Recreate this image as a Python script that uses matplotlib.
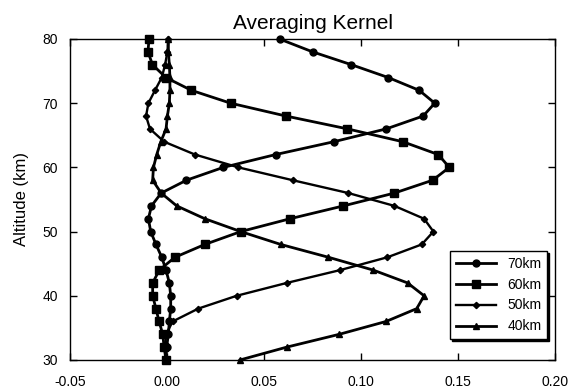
import numpy as np
from matplotlib import pyplot as plt

plt.rcParams['font.family'] = ['Liberation Sans', 'DejaVu Sans']

alt = [80, 78, 76, 74, 72, 70, 68, 66, 64, 62, 60, 58, 56,
       54, 52, 50, 48, 46, 44, 42, 40, 38, 36, 34, 32, 30]

k70 = [0.058, 0.075, 0.095, 0.114, 0.130, 0.138, 0.132, 0.113, 0.086, 0.056,
       0.029, 0.010, -0.003, -0.008, -0.0096, -0.0084, -0.0057, -0.0027,
       -0.0005, 0.0012, 0.0019, 0.0019, 0.0012, 0.0007, -0.0002, -0.0005]
k60 = [-0.0093, -0.0098, -0.0075, -0.0006, 0.0126, 0.0328, 0.0613, 0.093,
       0.1215, 0.1398, 0.1455, 0.1369, 0.1172, 0.0909, 0.0634, 0.038, 0.0195,
       0.0041, -0.004, -0.0074, -0.0074, -0.0057, -0.0041, -0.0022, -0.0015,
       -0.0005]
k50 = [0.0007, 0.0002, -0.001, -0.0027, -0.0062, -0.0096, -0.0108, -0.0088,
       -0.0015, 0.0144, 0.0368, 0.0648, 0.0935, 0.1172, 0.1325, 0.1373,
       0.1313, 0.1136, 0.0892, 0.0617, 0.0359, 0.0161, 0.0029, -0.0005,
       -0.001, -0.0005]
k40 = [0.0007, 0.0007, 0.0012, 0.0015, 0.0015, 0.0012, 0.0002, -0.0005,
       -0.0032, -0.0053, -0.007, -0.0074, -0.003, 0.005, 0.0195, 0.038,
       0.0586, 0.0832, 0.1063, 0.124, 0.1325, 0.1287, 0.1129, 0.0888, 0.0617,
       0.0376]

labels = ['70km', '60km', '50km', '40km']

fig = plt.figure(figsize=(5.8, 3.9), dpi=100)
ax = fig.add_axes([0.1207, 0.077, 0.8363, 0.823])

ax.plot(k70, alt, 'k-o', lw=2, ms=5, label=labels[0], clip_on=False)
ax.plot(k60, alt, 'k-s', lw=2, ms=5.5, label=labels[1], clip_on=False)
ax.plot(k50, alt, 'k-D', lw=1.7, ms=3.2, label=labels[2], clip_on=False)
ax.plot(k40, alt, 'k-^', lw=2, ms=4.5, label=labels[3], clip_on=False)

ax.set_xlim(-0.05, 0.20)
ax.set_ylim(30, 80)
ax.set_xticks(np.arange(-0.05, 0.201, 0.05))
ax.set_xticklabels(['-0.05', '0.00', '0.05', '0.10', '0.15', '0.20'])
ax.set_yticks([30, 40, 50, 60, 70, 80])
ax.tick_params(direction='in', top=True, right=True, length=5, width=1,
               labelsize=10)
ax.tick_params(axis='x', pad=10.5)
ax.tick_params(axis='y', pad=8.5)
for s in ax.spines.values():
    s.set_linewidth(1)

ax.set_title('Averaging Kernel', fontsize=15, pad=7.5)
ax.set_ylabel('Altitude (km)', fontsize=12, labelpad=10)

leg = ax.legend(loc='lower right', bbox_to_anchor=(0.9835, 0.0654),
                borderaxespad=0, fontsize=10, handlelength=2.9,
                fancybox=False, edgecolor='black', framealpha=1,
                shadow={'color': 'black', 'alpha': 1, 'ox': 1.3, 'oy': -1.3})
leg.get_frame().set_linewidth(1)

plt.savefig('out.png', dpi=100)
